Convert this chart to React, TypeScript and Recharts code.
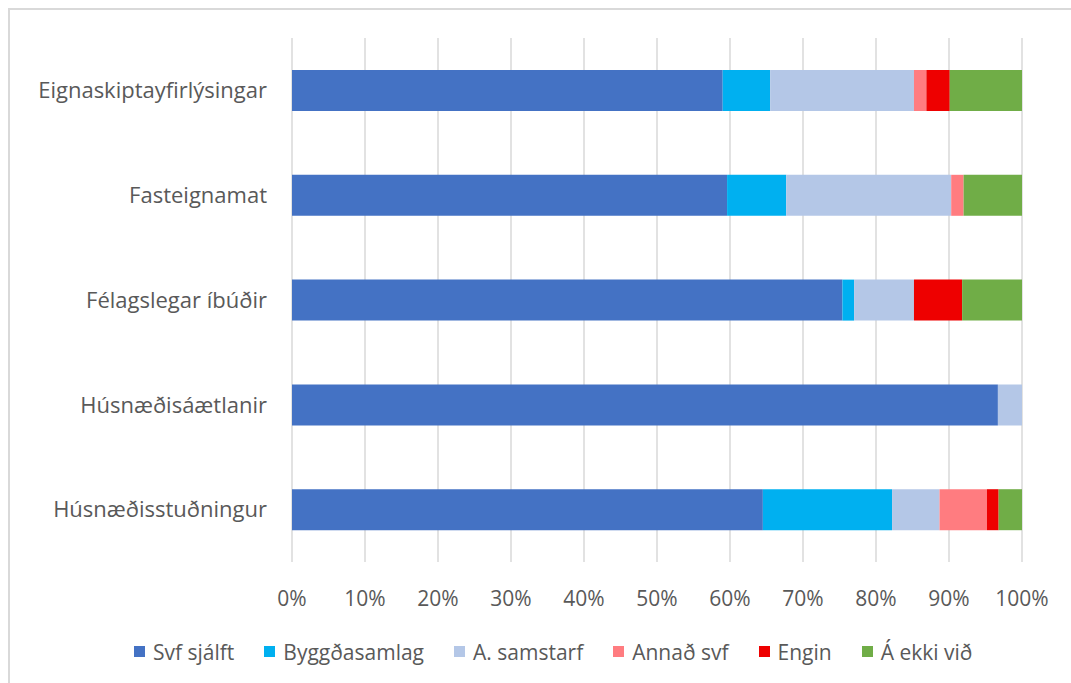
import { Bar, BarChart, CartesianGrid, Legend, XAxis, YAxis } from 'recharts'

const categories = [
  'Eignaskiptayfirlýsingar',
  'Fasteignamat',
  'Félagslegar íbúðir',
  'Húsnæðisáætlanir',
  'Húsnæðisstuðningur',
]

// share (%) per category, same order as categories
const svfSjalft = [59.0, 59.6, 75.4, 96.7, 64.5]
const byggdasamlag = [6.5, 8.1, 1.6, 0, 17.7]
const aSamstarf = [19.7, 22.6, 8.2, 3.3, 6.5]
const annadSvf = [1.7, 1.7, 0, 0, 6.5]
const engin = [3.2, 0, 6.6, 0, 1.6]
const aEkkiVid = [9.9, 8.0, 8.2, 0, 3.2]

const xTicks = [0, 0.1, 0.2, 0.3, 0.4, 0.5, 0.6, 0.7, 0.8, 0.9, 1]

const SERIES = [
  { key: 'svf', name: 'Svf sjálft', color: '#4472C4', values: svfSjalft },
  { key: 'bygg', name: 'Byggðasamlag', color: '#00B0F0', values: byggdasamlag },
  { key: 'samst', name: 'A. samstarf', color: '#B4C7E7', values: aSamstarf },
  { key: 'annad', name: 'Annað svf', color: '#FF7C80', values: annadSvf },
  { key: 'engin', name: 'Engin', color: '#EE0000', values: engin },
  { key: 'ekki', name: 'Á ekki við', color: '#70AD47', values: aEkkiVid },
]

const data = categories.map((c, i) => {
  const row: Record<string, string | number> = { name: c }
  SERIES.forEach((s) => {
    row[s.key] = s.values[i]
  })
  return row
})

const FONT = '"Open Sans", sans-serif'
const TEXT = '#595959'

function LegendBox() {
  return (
    <div
      style={{
        height: 63,
        boxSizing: 'border-box',
        paddingTop: 16,
        paddingLeft: 124,
        display: 'flex',
        alignItems: 'center',
        fontFamily: FONT,
        fontSize: 21,
        color: TEXT,
        lineHeight: '24px',
        whiteSpace: 'nowrap',
      }}
    >
      {SERIES.map((s) => (
        <div key={s.key} style={{ display: 'flex', alignItems: 'center', marginRight: 30 }}>
          <span style={{ width: 11, height: 11, background: s.color, marginRight: 8, display: 'inline-block' }} />
          <span>{s.name}</span>
        </div>
      ))}
    </div>
  )
}

export default function App() {
  return (
    <div
      style={{
        position: 'fixed',
        top: 8,
        left: 8,
        borderTop: '2px solid #d9d9d9',
        borderLeft: '2px solid #d9d9d9',
        width: 1100,
        height: 700,
        background: '#fff',
      }}
    >
      <BarChart
        width={1050}
        height={665}
        data={data}
        layout="vertical"
        stackOffset="expand"
        barSize={41}
        margin={{ top: 28, right: 38, left: 0, bottom: 0 }}
      >
        <CartesianGrid horizontal={false} stroke="#d9d9d9" strokeWidth={1.5} />
        <XAxis
          type="number"
          domain={[0, 1]}
          ticks={xTicks}
          tickFormatter={(v) => `${Math.round(v * 100)}%`}
          axisLine={false}
          tickLine={false}
          tickSize={0}
          tickMargin={29}
          height={50}
          interval={0}
          tick={{ fill: TEXT, fontSize: 21, fontFamily: FONT }}
        />
        <YAxis
          type="category"
          dataKey="name"
          width={282}
          axisLine={false}
          tickLine={false}
          tickSize={0}
          tickMargin={25}
          tick={{ fill: TEXT, fontSize: 22, fontFamily: FONT }}
        />
        <Legend verticalAlign="bottom" content={() => <LegendBox />} wrapperStyle={{ height: 63 }} />
        {SERIES.map((s) => (
          <Bar key={s.key} dataKey={s.key} name={s.name} stackId="a" fill={s.color} isAnimationActive={false} />
        ))}
      </BarChart>
    </div>
  )
}
